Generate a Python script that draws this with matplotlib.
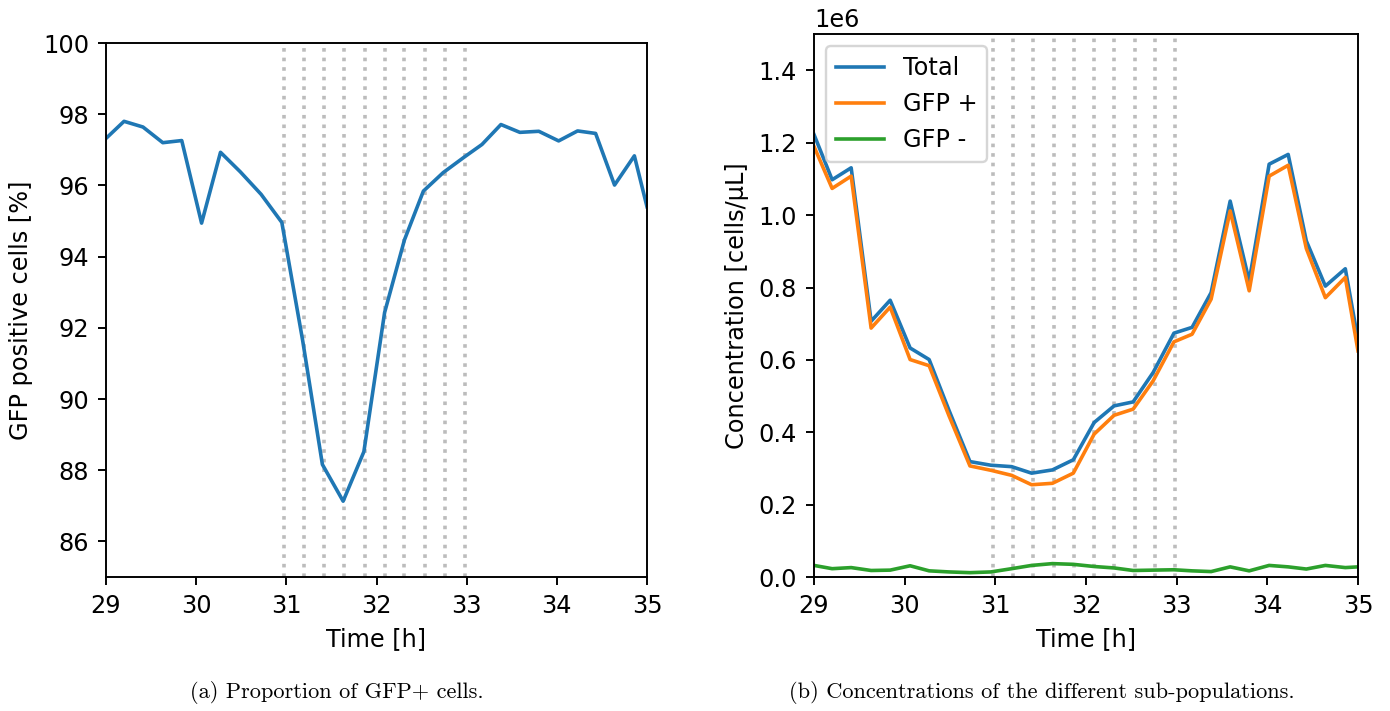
import matplotlib
matplotlib.use("Agg")
import matplotlib.pyplot as plt

# ---- data ----
time_h = [29.0, 29.2, 29.41, 29.63, 29.84, 30.06, 30.27, 30.49, 30.72, 30.95,
          31.18, 31.40, 31.63, 31.86, 32.09, 32.31, 32.52, 32.74, 32.97, 33.17,
          33.38, 33.59, 33.80, 34.02, 34.23, 34.43, 34.64, 34.86, 35.0]

gfp_percent = [97.32, 97.80, 97.64, 97.20, 97.26, 94.94, 96.93, 96.38, 95.75, 94.96,
               91.66, 88.16, 87.13, 88.52, 92.43, 94.47, 95.84, 96.36, 96.79, 97.15,
               97.71, 97.49, 97.52, 97.25, 97.53, 97.46, 96.01, 96.83, 95.40]

total_conc = [1.223e6, 1.098e6, 1.131e6, 0.707e6, 0.765e6, 0.633e6, 0.601e6, 0.460e6, 0.319e6, 0.309e6,
              0.305e6, 0.287e6, 0.296e6, 0.324e6, 0.427e6, 0.473e6, 0.484e6, 0.565e6, 0.674e6, 0.690e6,
              0.786e6, 1.039e6, 0.818e6, 1.141e6, 1.168e6, 0.929e6, 0.804e6, 0.852e6, 0.655e6]

gfp_pos_conc = [1.190e6, 1.074e6, 1.108e6, 0.688e6, 0.746e6, 0.601e6, 0.584e6, 0.445e6, 0.307e6, 0.295e6,
                0.281e6, 0.255e6, 0.259e6, 0.287e6, 0.395e6, 0.447e6, 0.464e6, 0.542e6, 0.650e6, 0.671e6,
                0.768e6, 1.012e6, 0.791e6, 1.108e6, 1.138e6, 0.908e6, 0.772e6, 0.828e6, 0.625e6]

gfp_neg_conc = [0.032e6, 0.023e6, 0.026e6, 0.018e6, 0.019e6, 0.031e6, 0.017e6, 0.014e6, 0.012e6, 0.014e6,
                0.023e6, 0.032e6, 0.037e6, 0.035e6, 0.029e6, 0.025e6, 0.018e6, 0.019e6, 0.020e6, 0.017e6,
                0.015e6, 0.028e6, 0.017e6, 0.032e6, 0.028e6, 0.022e6, 0.032e6, 0.026e6, 0.028e6]

event_times = [30.975, 31.2, 31.42, 31.645, 31.87, 32.09, 32.31, 32.535, 32.76, 32.98]

left_yticks = [86, 88, 90, 92, 94, 96, 98, 100]
x_ticks = [29, 30, 31, 32, 33, 34, 35]
right_yticks = [0.0, 0.2e6, 0.4e6, 0.6e6, 0.8e6, 1.0e6, 1.2e6, 1.4e6]

series_labels = ["Total", "GFP +", "GFP -"]
captions = ["(a) Proportion of GFP+ cells.",
            "(b) Concentrations of the different sub-populations."]

# ---- figure ----
DPI = 173
fig = plt.figure(figsize=(1390 / DPI, 711 / DPI), dpi=DPI)

ax1 = fig.add_axes([106 / 1390, 1 - 577 / 711, 541 / 1390, (577 - 43) / 711])
ax2 = fig.add_axes([814 / 1390, 1 - 577 / 711, 544 / 1390, (577 - 34.3) / 711])

dot_style = dict(color="#bcbcbc", linestyle=":", linewidth=1.5, zorder=1)

for t in event_times:
    ax1.axvline(t, **dot_style)
ax1.plot(time_h, gfp_percent, color="C0", linewidth=1.5, zorder=2)
ax1.set_xlim(29, 35)
ax1.set_ylim(85, 100)
ax1.set_xticks(x_ticks)
ax1.set_yticks(left_yticks)
ax1.set_xlabel("Time [h]")
ax1.set_ylabel("GFP positive cells [%]")

for t in event_times:
    ax2.axvline(t, **dot_style)
ax2.plot(time_h, total_conc, color="C0", linewidth=1.5, label=series_labels[0], zorder=2)
ax2.plot(time_h, gfp_pos_conc, color="C1", linewidth=1.5, label=series_labels[1], zorder=2)
ax2.plot(time_h, gfp_neg_conc, color="C2", linewidth=1.5, label=series_labels[2], zorder=2)
ax2.set_xlim(29, 35)
ax2.set_ylim(0, 1.5e6)
ax2.set_xticks(x_ticks)
ax2.set_yticks(right_yticks)
ax2.set_xlabel("Time [h]")
ax2.set_ylabel("Concentration [cells/µL]")
ax2.legend(loc="upper left")

fig.text(337 / 1390, 1 - 692 / 711, captions[0], ha="center", va="center",
         family=["cmr10", "DejaVu Serif"], fontsize=9.3)
fig.text(1042 / 1390, 1 - 692 / 711, captions[1], ha="center", va="center",
         family=["cmr10", "DejaVu Serif"], fontsize=9.3)

fig.savefig("out.png", dpi=DPI)
